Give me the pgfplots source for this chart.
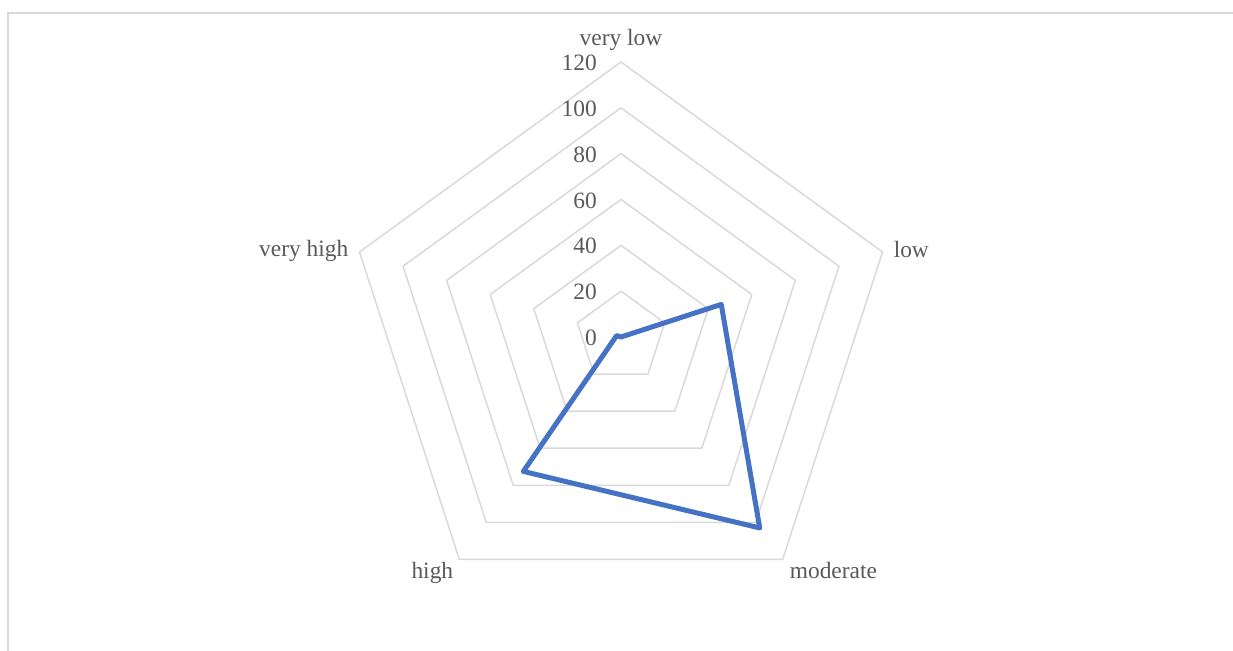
\documentclass[border=0pt]{standalone}
\usepackage{pgfplots}
\pgfplotsset{compat=1.18}
\usepgfplotslibrary{polar}
\usepackage{fontspec}
\setmainfont{Liberation Serif}
\definecolor{gridc}{RGB}{217,217,217}
\definecolor{txt}{RGB}{89,89,89}
\definecolor{serie}{RGB}{68,114,196}
\definecolor{frame}{RGB}{217,217,217}
\begin{document}
\begin{tikzpicture}[x=1bp,y=1bp]
\useasboundingbox (0,0) rectangle (1233,651);
\draw[frame,line width=1.5bp] (8,0) -- (8,638) -- (1233,638);
\begin{polaraxis}[
  at={(621bp,314bp)}, anchor=center,
  scale only axis, width=550bp, height=550bp,
  hide axis, clip=false,
  xmin=0, xmax=360, ymin=0, ymax=120,
  xtick=\empty, ytick=\empty,
  font=\fontsize{23.5}{28}\selectfont,
]
\foreach \r in {20,40,60,80,100,120}{
  \edef\tmp{\noexpand\addplot[gridc, line width=1.5bp, no marks] coordinates {(90,\r) (18,\r) (-54,\r) (-126,\r) (162,\r) (90,\r)};}
  \tmp
}
\addplot[serie, line width=5bp, no marks, line join=round, line cap=round] coordinates {(90,0) (18,46) (-54,103) (-126,72.5) (162,2) (90,0)};
\foreach \v in {0,20,40,60,80,100,120}{
  \edef\tmp{\noexpand\node[txt, anchor=east, inner sep=0pt] at (axis cs:90,\v) [xshift=-24bp,yshift=-1bp] {\v};}
  \tmp
}
\node[txt, anchor=south, inner sep=0pt] at (axis cs:90,120) [yshift=11bp] {very low};
\node[txt, anchor=west, inner sep=0pt] at (axis cs:18,120) [xshift=11bp,yshift=3bp] {low};
\node[txt, anchor=north west, inner sep=0pt] at (axis cs:-54,120) [xshift=7bp,yshift=-3bp] {moderate};
\node[txt, anchor=north east, inner sep=0pt] at (axis cs:-126,120) [xshift=-6bp,yshift=-3bp] {high};
\node[txt, anchor=east, inner sep=0pt] at (axis cs:162,120) [xshift=-11bp,yshift=1bp] {very high};
\end{polaraxis}
\end{tikzpicture}
\end{document}
